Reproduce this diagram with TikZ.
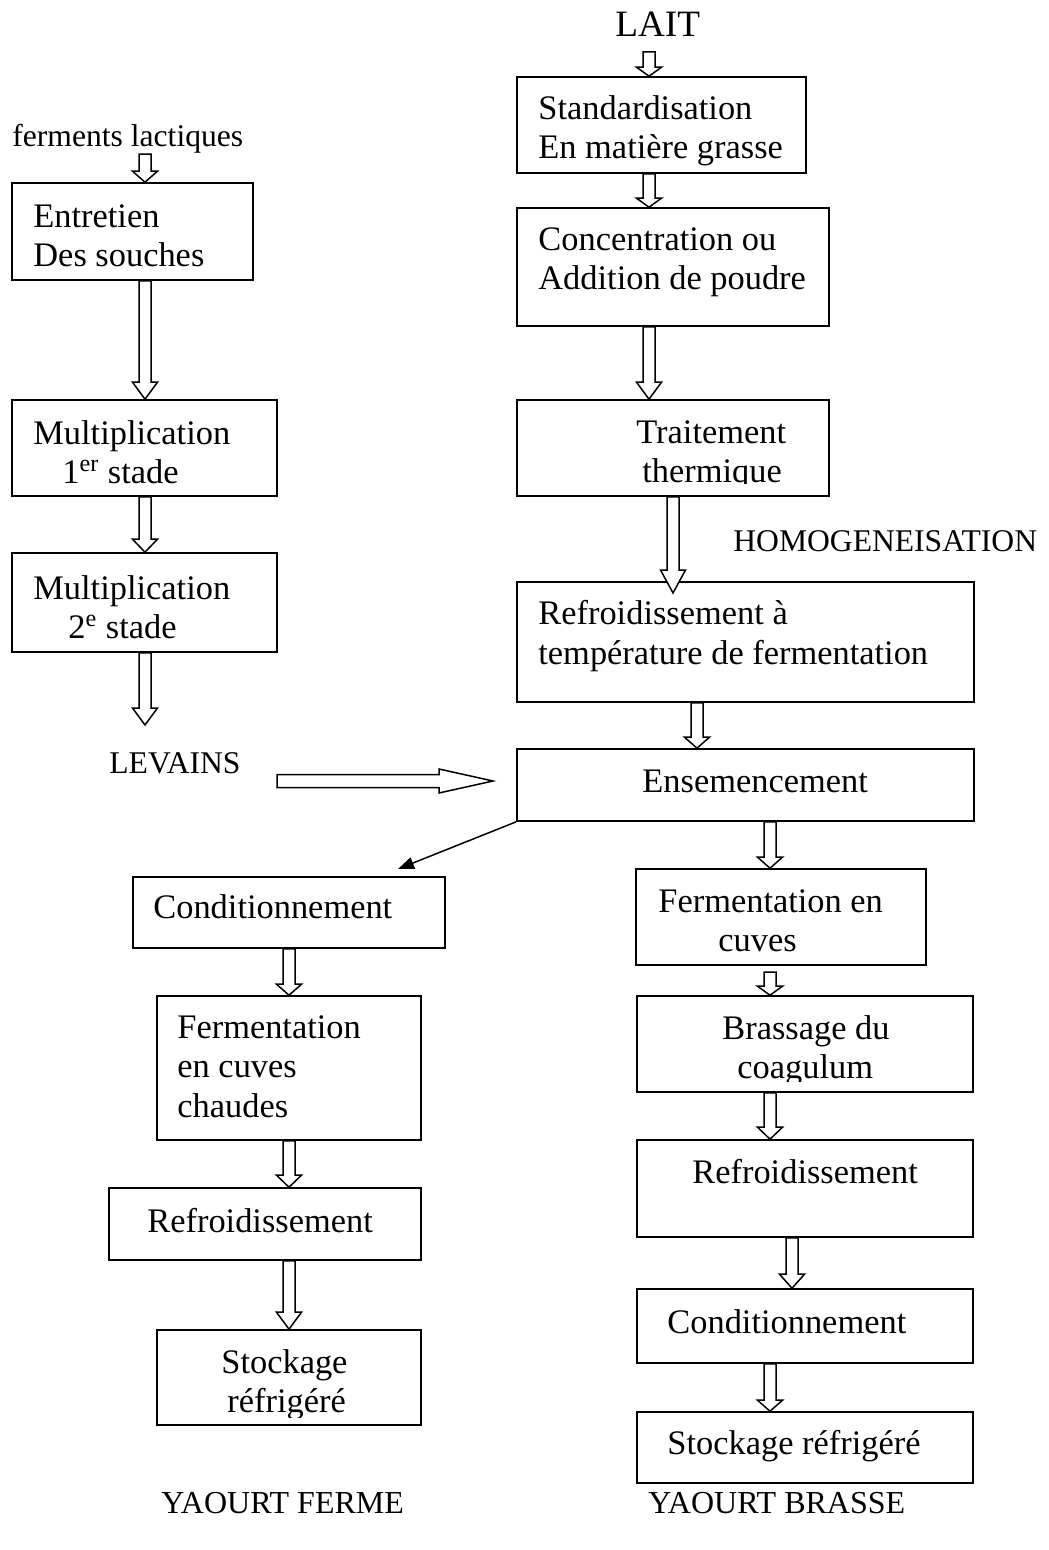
\documentclass[tikz,border=0pt]{standalone}
\usepackage{fontspec}
\setmainfont{Liberation Serif}
\usepackage{tikz}
\usetikzlibrary{arrows.meta, positioning, calc, fit}

% hollow block arrow going down: [head length]{x}{from}{to}
\newcommand{\flow}[4][14]{%
  \coordinate (fx) at (#2,0);
  \draw[hollow] ($(#3 -| fx)+(-6,0)$) -- ($(#4 -| fx)+(-6,-#1)$) -- ++(-6.5,0)
    -- (#4 -| fx) -- ($(#4 -| fx)+(12.5,-#1)$) -- ++(-6.5,0)
    -- ($(#3 -| fx)+(6,0)$) -- cycle;}

\begin{document}
\begin{tikzpicture}[
    x=0.5pt, y=-0.5pt,
    stepbox/.style={draw, line width=0.8pt, inner sep=0pt},
    boxtxt/.style={inner sep=0pt, align=left, anchor=north west, font=\fontsize{17.2}{19.8}\selectfont},
    onetxt/.style={inner sep=0pt, anchor=base west, font=\fontsize{17.2}{19.8}\selectfont},
    lbl/.style={inner sep=0pt, anchor=base west, font=\fontsize{15.8}{18}\selectfont},
    hollow/.style={draw, line width=0.75pt, fill=white, line join=miter},
    thin/.style={line width=0.75pt, -{Triangle[length=8pt, width=6pt]}}
  ]
    \useasboundingbox (0,0) rectangle (1048,1550);

    % --- colonne des levains ---
    \node[lbl] (ferm) at (12,147) {ferments lactiques};
    \node[stepbox, fit={(12,183) (253,280)}] (entretien) {};
    \node[boxtxt] (t-entretien) at (33,204) {Entretien\\Des souches};
    \node[stepbox, fit={(12,400) (277,496)}] (mult1) {};
    \node[boxtxt] (t-mult1) at (33,420) {Multiplication\\\hspace*{14.5pt}1\textsuperscript{er} stade};
    \node[stepbox, fit={(12,553) (277,652)}] (mult2) {};
    \node[boxtxt] (t-mult2) at (33,575) {Multiplication\\\hspace*{17.5pt}2\textsuperscript{e} stade};
    \node[lbl] (levains) at (109,773) {LEVAINS};
    \coordinate (levtop) at (145,725);

    % --- lait ---
    \node[onetxt, font=\fontsize{18.6}{21}\selectfont] (lait) at (615,37) {LAIT};
    \coordinate (laitbot) at (649,52);
    \node[stepbox, fit={(517,77) (806,173)}] (std) {};
    \node[boxtxt] (t-std) at (538,95) {Standardisation\\En matière grasse};
    \node[stepbox, fit={(517,208) (829,326)}] (conc) {};
    \node[boxtxt] (t-conc) at (538,227) {Concentration ou\\Addition de poudre};
    \node[stepbox, fit={(517,400) (829,496)}] (trait) {};
    \begin{scope}
      \clip (517,400) rectangle (829,484);
      \node[boxtxt] (t-trait) at (636,420) {Traitement\\\hspace*{3pt}thermique};
    \end{scope}
    \node[lbl] (homog) at (733,552) {HOMOGENEISATION};
    \node[stepbox, fit={(517,582) (974,702)}] (refr) {};
    \node[boxtxt] (t-refr) at (538,600) {Refroidissement à\\température de fermentation};
    \coordinate (refrin) at (673,593);
    \node[stepbox, fit={(517,749) (974,821)}] (ens) {};
    \node[onetxt] (t-ens) at (642,792) {Ensemencement};

    % --- yaourt ferme ---
    \node[stepbox, fit={(133,877) (445,948)}] (condL) {};
    \node[onetxt] (t-condL) at (153,918) {Conditionnement};
    \coordinate (condin) at (398,869);
    \node[stepbox, fit={(157,996) (421,1140)}] (fermL) {};
    \node[boxtxt] (t-fermL) at (177,1015) {Fermentation\\en cuves\\chaudes};
    \node[stepbox, fit={(109,1188) (421,1260)}] (refrL) {};
    \node[onetxt] (t-refrL) at (147,1232) {Refroidissement};
    \node[stepbox, fit={(157,1330) (421,1425)}] (stockL) {};
    \begin{scope}
      \clip (157,1330) rectangle (421,1417);
      \node[boxtxt] (t-stockL) at (221,1349) {Stockage\\\hspace*{3pt}réfrigéré};
    \end{scope}
    \node[lbl, font=\fontsize{16}{18}\selectfont] (ferme) at (161,1513) {YAOURT FERME};

    % --- yaourt brasse ---
    \node[stepbox, fit={(636,869) (926,965)}] (fermR) {};
    \node[boxtxt] (t-fermR) at (658,889) {Fermentation en\\\hspace*{30pt}cuves};
    \coordinate (fermRbot) at (770,972);
    \node[stepbox, fit={(637,996) (973,1092)}] (brass) {};
    \begin{scope}
      \clip (637,996) rectangle (973,1081);
      \node[boxtxt] (t-brass) at (722,1015) {Brassage du\\\hspace*{7.5pt}coagulum};
    \end{scope}
    \node[stepbox, fit={(637,1140) (973,1237)}] (refrR) {};
    \node[onetxt] (t-refrR) at (692,1183) {Refroidissement};
    \node[stepbox, fit={(637,1289) (973,1363)}] (condR) {};
    \node[onetxt] (t-condR) at (667,1333) {Conditionnement};
    \node[stepbox, fit={(637,1412) (973,1483)}] (stockR) {};
    \node[onetxt] (t-stockR) at (667,1454) {Stockage réfrigéré};
    \node[lbl, font=\fontsize{16}{18}\selectfont] (brasse) at (648,1513) {YAOURT BRASSE};

    % --- fleches ---
    \flow[11]{145}{ferm.south}{entretien.north}
    \flow[17]{145}{entretien.south}{mult1.north}
    \flow[13]{145}{mult1.south}{mult2.north}
    \flow[17]{145}{mult2.south}{levtop}
    \flow[9]{649}{laitbot}{std.north}
    \flow[9]{649}{std.south}{conc.north}
    \flow[17]{649}{conc.south}{trait.north}
    \flow[23]{673}{trait.south}{refrin}
    \flow[11]{697}{refr.south}{ens.north}
    \flow[11]{770}{ens.south}{fermR.north}
    \flow[9]{770}{fermRbot}{brass.north}
    \flow[12]{770}{brass.south}{refrR.north}
    \flow[14]{792}{refrR.south}{condR.north}
    \flow[11]{770}{condR.south}{stockR.north}
    \flow[11]{289}{condL.south}{fermL.north}
    \flow[12]{289}{fermL.south}{refrL.north}
    \flow[17]{289}{refrL.south}{stockL.north}

    % levains vers ensemencement
    \coordinate (lvA) at (277,781);
    \coordinate (lvB) at (493,781);
    \draw[hollow] ($(lvA)+(0,-6.5)$) -- ($(lvB)+(-54,-6.5)$) -- ++(0,-5.5) -- (lvB)
      -- ($(lvB)+(-54,12)$) -- ++(0,-5.5) -- ($(lvA)+(0,6.5)$) -- cycle;

    \draw[thin] (ens.south west) -- (condin);

\end{tikzpicture}
\end{document}
